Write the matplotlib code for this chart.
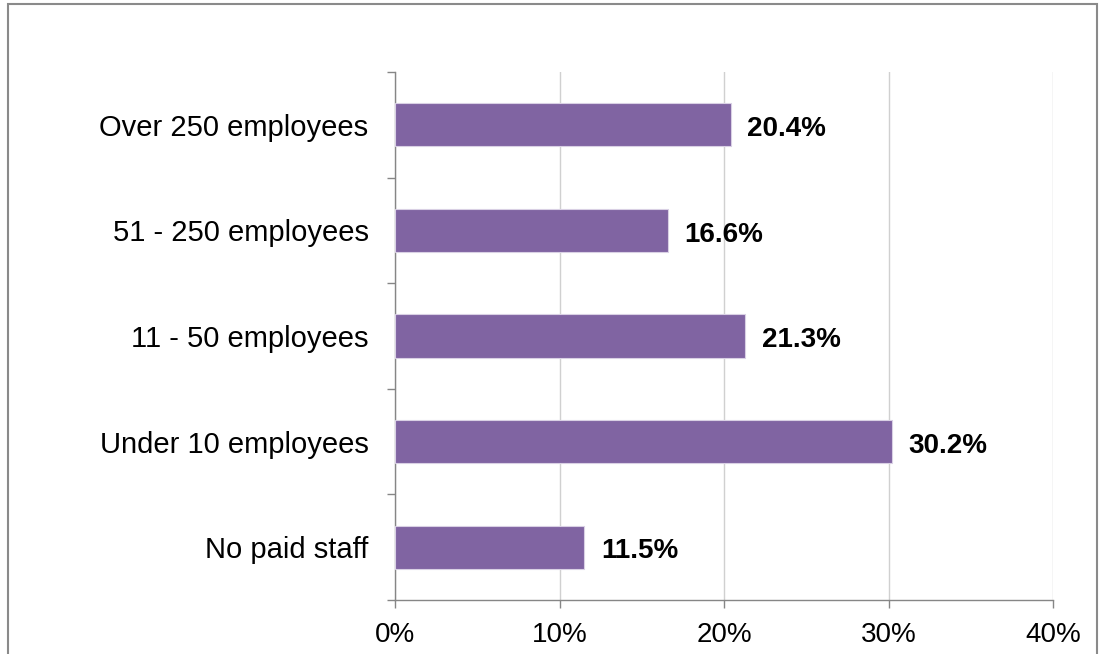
import matplotlib.pyplot as plt
from matplotlib.patches import Rectangle
from matplotlib.ticker import FixedLocator, PercentFormatter

plt.rcParams['font.family'] = ['Liberation Sans', 'DejaVu Sans']

categories = ["Over 250 employees", "51 - 250 employees", "11 - 50 employees",
              "Under 10 employees", "No paid staff"]
shares = [20.4, 16.6, 21.3, 30.2, 11.5]
x_ticks = [0, 10, 20, 30, 40]

BAR_COLOR = "#8064a2"
AXIS_COLOR = "#868686"
GRID_COLOR = "#d0d0d0"

fig = plt.figure(figsize=(11.03, 6.54), dpi=100)
ax = fig.add_axes([395 / 1103, 1 - 600 / 654, 658 / 1103, 528 / 654])

positions = list(range(len(categories)))
ax.barh(positions, shares, height=0.41, color=BAR_COLOR,
        edgecolor="#d9d0e4", linewidth=0.8, zorder=3)

for pos, val in zip(positions, shares):
    ax.annotate(f"{val:.1f}%", (val, pos), xytext=(12, -3),
                textcoords="offset points", va="center", ha="left",
                fontsize=20, fontweight="bold", color="black")

ax.set_xlim(0, 40)
ax.set_ylim(len(categories) - 0.5, -0.5)

ax.xaxis.set_major_locator(FixedLocator(x_ticks))
ax.xaxis.set_major_formatter(PercentFormatter(decimals=0))
ax.grid(axis="x", color=GRID_COLOR, linewidth=1.0, zorder=0)
ax.set_axisbelow(True)

# category labels sit between boundary ticks
ax.set_yticks([p - 0.5 for p in positions] + [len(categories) - 0.5])
ax.set_yticklabels([])
ax.set_yticks(positions, minor=True)
ax.set_yticklabels(categories, minor=True)
ax.tick_params(axis="y", which="minor", length=0, pad=19, labelsize=21)
ax.tick_params(axis="y", which="major", length=6, width=1, color=AXIS_COLOR,
               direction="out")
ax.tick_params(axis="x", length=6, width=1, color=AXIS_COLOR, pad=10,
               labelsize=20)

for side in ("top", "right"):
    ax.spines[side].set_visible(False)
for side in ("left", "bottom"):
    ax.spines[side].set_color(AXIS_COLOR)
    ax.spines[side].set_linewidth(1.0)

# outer chart frame, its bottom edge runs off the canvas
frame = Rectangle((8 / 1103, -0.05), 1089 / 1103, 1.05 - 4 / 654,
                  transform=fig.transFigure, fill=False,
                  edgecolor="#8a8a8a", linewidth=1.5)
fig.patches.append(frame)

fig.savefig("out.png", dpi=100)
